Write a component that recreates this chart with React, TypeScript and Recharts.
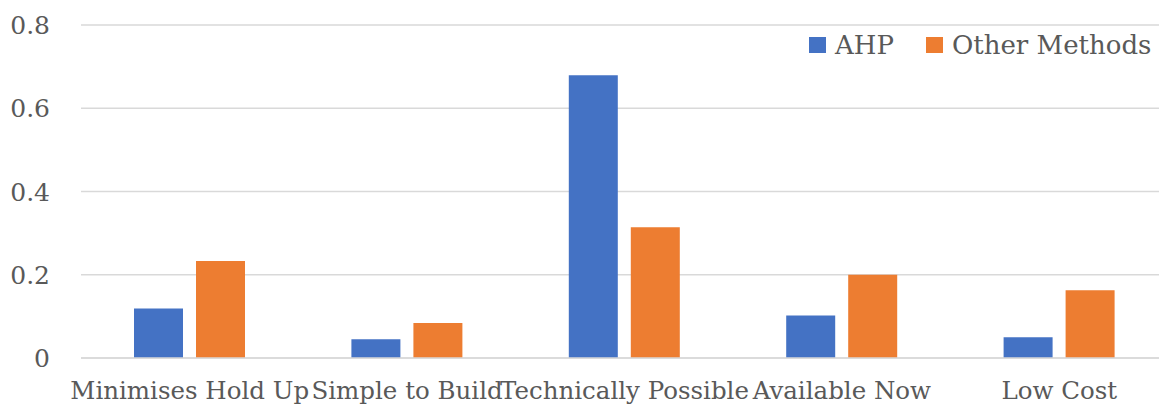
import { BarChart, Bar, XAxis, YAxis, CartesianGrid } from "recharts";

const categories = [
  "Minimises Hold Up",
  "Simple to Build",
  "Technically Possible",
  "Available Now",
  "Low Cost",
];
const ahpValues = [0.119, 0.045, 0.679, 0.102, 0.05];
const otherValues = [0.233, 0.084, 0.314, 0.2, 0.163];
const yTicks = [0, 0.2, 0.4, 0.6, 0.8];

const AHP_COLOR = "#4472C4";
const OTHER_COLOR = "#ED7D31";
const TEXT_COLOR = "#595959";
const GRID_COLOR = "#D9D9D9";
const FONT = "'DejaVu Serif', serif";

const data = categories.map((name, i) => ({
  name,
  ahp: ahpValues[i],
  other: otherValues[i],
}));

const legendItems = [
  { label: "AHP", color: AHP_COLOR },
  { label: "Other Methods", color: OTHER_COLOR },
];

function YTick({ x, y, payload }: any) {
  return (
    <text x={x} y={y} dx={-23} dy={9} textAnchor="end" fill={TEXT_COLOR} fontSize={25} fontFamily={FONT}>
      {payload.value}
    </text>
  );
}

function XTick({ x, y, payload }: any) {
  return (
    <text x={x} y={y} dy={33} textAnchor="middle" fill={TEXT_COLOR} fontSize={24.5} fontFamily={FONT}>
      {payload.value}
    </text>
  );
}

// legend sits over the chart, top right
function LegendBox() {
  return (
    <div
      style={{
        position: "absolute",
        top: 30,
        left: 809,
        display: "flex",
        alignItems: "center",
        fontFamily: FONT,
        fontSize: 26,
        color: TEXT_COLOR,
        whiteSpace: "nowrap",
      }}
    >
      {legendItems.map((item) => (
        <div key={item.label} style={{ display: "flex", alignItems: "center", marginRight: 32 }}>
          <span style={{ width: 17, height: 16, background: item.color, display: "inline-block", marginRight: 9 }} />
          <span>{item.label}</span>
        </div>
      ))}
    </div>
  );
}

export default function App() {
  return (
    <div
      style={{
        position: "fixed",
        left: 0,
        top: 0,
        width: 1159,
        height: 413,
        overflow: "hidden",
        background: "#fff",
      }}
    >
      <BarChart
        width={1180}
        height={413}
        data={data}
        margin={{ top: 25, right: 12, bottom: 0, left: 0 }}
        barCategoryGap={53}
        barGap={13}
      >
        <CartesianGrid horizontal vertical={false} stroke={GRID_COLOR} strokeWidth={1.5} />
        <XAxis
          dataKey="name"
          height={55}
          axisLine={{ stroke: GRID_COLOR, strokeWidth: 1.5 }}
          tickLine={false}
          tick={<XTick />}
          interval={0}
        />
        <YAxis
          width={81}
          domain={[0, 0.8]}
          ticks={yTicks}
          axisLine={false}
          tickLine={false}
          tick={<YTick />}
        />
        <Bar dataKey="ahp" name="AHP" fill={AHP_COLOR} isAnimationActive={false} />
        <Bar dataKey="other" name="Other Methods" fill={OTHER_COLOR} isAnimationActive={false} />
      </BarChart>
      <LegendBox />
    </div>
  );
}
